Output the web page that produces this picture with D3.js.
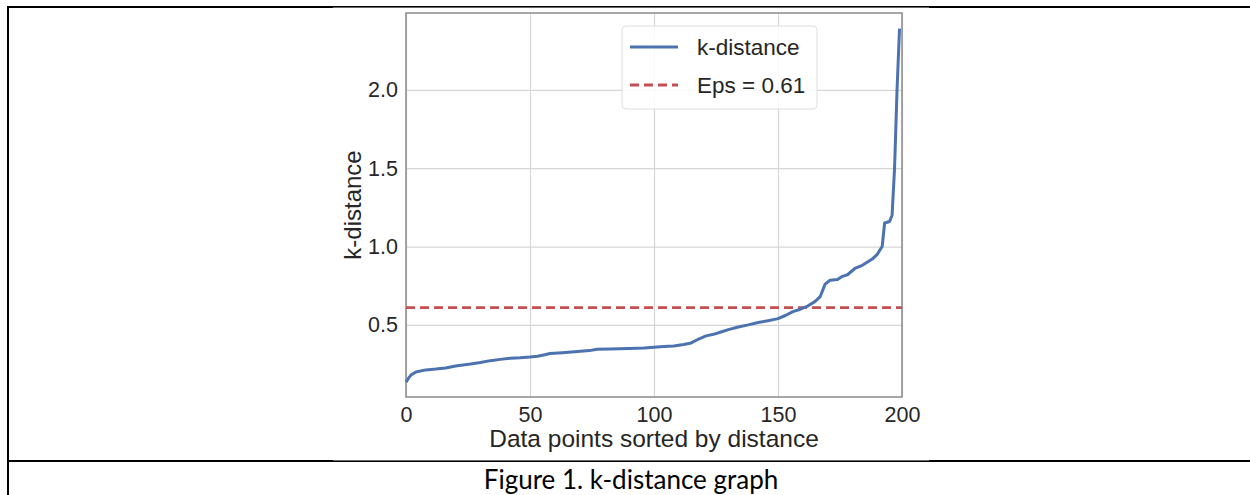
<!DOCTYPE html>
<html>
<head>
<meta charset="utf-8">
<script src="https://cdn.jsdelivr.net/npm/d3@7"></script>
<style>
  body { margin: 0; background: #fff; }
  svg { display: block; }
</style>
</head>
<body>
<div id="chart"></div>
<script>
// values
const pointIndex = [0, 1, 2, 4, 8, 12, 16, 20, 26, 30, 34, 38, 42, 46, 50, 53, 56, 58, 63, 68, 74, 77, 82, 90, 96, 100, 104, 108, 112, 115, 118, 121, 124, 127, 130, 134, 138, 142, 146, 150, 153, 156, 159, 162, 165, 167, 169, 171, 174, 176, 178, 181, 184, 188, 190, 192, 193, 195, 196, 197, 198, 199];
const kDistance = [0.135, 0.16, 0.18, 0.2, 0.213, 0.218, 0.225, 0.238, 0.25, 0.26, 0.272, 0.28, 0.287, 0.29, 0.295, 0.3, 0.31, 0.318, 0.323, 0.328, 0.336, 0.344, 0.347, 0.349, 0.352, 0.357, 0.362, 0.366, 0.375, 0.385, 0.41, 0.43, 0.44, 0.455, 0.47, 0.487, 0.5, 0.515, 0.527, 0.54, 0.56, 0.585, 0.6, 0.62, 0.65, 0.68, 0.76, 0.785, 0.79, 0.81, 0.82, 0.86, 0.88, 0.92, 0.95, 1.0, 1.15, 1.16, 1.2, 1.5, 2.0, 2.39];
const epsValue = 0.61;
const xTicks = [0, 50, 100, 150, 200];
const yTicks = [0.5, 1.0, 1.5, 2.0];
const legendLabels = ['k-distance', 'Eps = 0.61'];
const caption = 'Figure 1. k-distance graph';

const W = 1250;
const H = 495;
const plot = { left: 406, right: 902, top: 13, bottom: 397 };

const svg = d3.select('#chart').append('svg').attr('width', W).attr('height', H);

// table borders
svg.append('line').attr('x1', 8).attr('x2', 8).attr('y1', 6).attr('y2', H)
  .attr('stroke', '#000').attr('stroke-width', 2);
svg.append('line').attr('x1', 7).attr('x2', W).attr('y1', 7).attr('y2', 7)
  .attr('stroke', '#000').attr('stroke-width', 2);
svg.append('line').attr('x1', 7).attr('x2', W).attr('y1', 461).attr('y2', 461)
  .attr('stroke', '#000').attr('stroke-width', 2);
// pasted figure sits over the borders
svg.append('rect').attr('x', 333).attr('y', 7.6).attr('width', 596).attr('height', 452.8)
  .attr('fill', '#fff');

svg.append('text')
  .attr('x', 631).attr('y', 489)
  .attr('text-anchor', 'middle')
  .attr('font-family', 'Lato, "Open Sans", sans-serif')
  .attr('font-size', 26)
  .attr('fill', '#000')
  .text(caption);

const scaleX = d3.scaleLinear().domain([0, 200]).range([plot.left, plot.right]);
const scaleY = d3.scaleLinear().domain([0.04, 2.49]).range([plot.bottom, plot.top]);

const font = '"Liberation Sans", Arial, sans-serif';

// grid + ticks
const axisX = d3.axisBottom(scaleX).tickValues(xTicks)
  .tickSize(-(plot.bottom - plot.top)).tickPadding(10).tickFormat(d3.format('d'));
const axisY = d3.axisLeft(scaleY).tickValues(yTicks)
  .tickSize(-(plot.right - plot.left)).tickPadding(8).tickFormat(d3.format('.1f'));

const gx = svg.append('g').attr('id', 'x-axis')
  .attr('transform', `translate(0, ${plot.bottom})`).call(axisX);
const gy = svg.append('g').attr('id', 'y-axis')
  .attr('transform', `translate(${plot.left}, 0)`).call(axisY);

[gx, gy].forEach((g) => {
  g.select('.domain').remove();
  g.selectAll('.tick line').attr('stroke', '#d6d6d6').attr('stroke-width', 1.2);
  g.selectAll('.tick text')
    .attr('font-family', font).attr('font-size', 21.5).attr('fill', '#262626');
});
gx.selectAll('.tick text').attr('dy', '0.71em');

// frame
svg.append('rect')
  .attr('x', plot.left).attr('y', plot.top)
  .attr('width', plot.right - plot.left).attr('height', plot.bottom - plot.top)
  .attr('fill', 'none').attr('stroke', '#8a8a8a').attr('stroke-width', 1.5);

// eps line
svg.append('line')
  .attr('x1', plot.left).attr('x2', plot.right)
  .attr('y1', scaleY(epsValue)).attr('y2', scaleY(epsValue))
  .attr('stroke', '#c44e52').attr('stroke-width', 2.8)
  .attr('stroke-dasharray', '9,5');

// k-distance curve
const line = d3.line()
  .x((d, i) => scaleX(pointIndex[i]))
  .y((d) => scaleY(d));

svg.append('path')
  .datum(kDistance)
  .attr('d', line)
  .attr('fill', 'none')
  .attr('stroke', '#4c72b0')
  .attr('stroke-width', 3)
  .attr('stroke-linejoin', 'round');

// axis titles
svg.append('text')
  .attr('x', (plot.left + plot.right) / 2).attr('y', 447)
  .attr('text-anchor', 'middle')
  .attr('font-family', font).attr('font-size', 24.5).attr('fill', '#262626')
  .text('Data points sorted by distance');

svg.append('text')
  .attr('transform', `translate(361, ${(plot.top + plot.bottom) / 2}) rotate(-90)`)
  .attr('text-anchor', 'middle')
  .attr('font-family', font).attr('font-size', 24).attr('fill', '#262626')
  .text('k-distance');

// legend
const legend = svg.append('g').attr('transform', 'translate(622, 26)');
legend.append('rect')
  .attr('width', 195).attr('height', 83).attr('rx', 4)
  .attr('fill', '#fff').attr('fill-opacity', 0.85)
  .attr('stroke', '#dedede').attr('stroke-width', 1);

const legendStyles = [
  { stroke: '#4c72b0', dash: null },
  { stroke: '#c44e52', dash: '9,5' }
];
legendLabels.forEach((label, i) => {
  const yy = 21 + i * 38;
  legend.append('line')
    .attr('x1', 8).attr('x2', 56).attr('y1', yy).attr('y2', yy)
    .attr('stroke', legendStyles[i].stroke).attr('stroke-width', 3)
    .attr('stroke-dasharray', legendStyles[i].dash);
  legend.append('text')
    .attr('x', 75).attr('y', yy).attr('dy', '0.35em')
    .attr('font-family', font).attr('font-size', 22.5).attr('fill', '#262626')
    .text(label);
});
</script>
</body>
</html>
